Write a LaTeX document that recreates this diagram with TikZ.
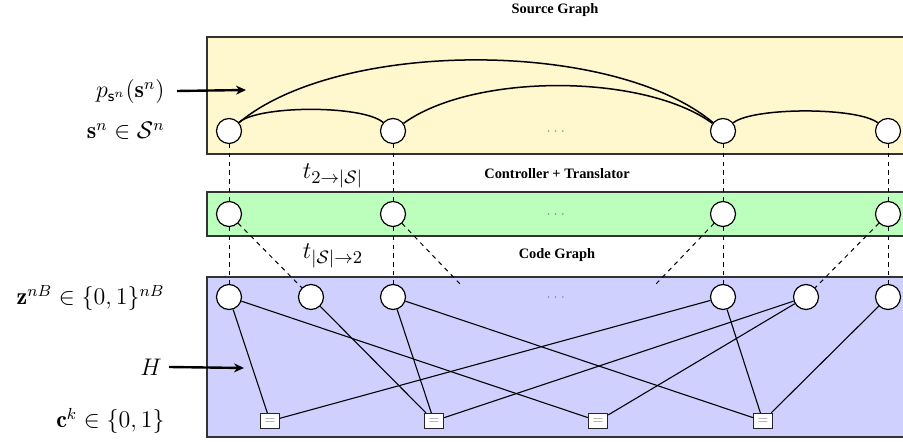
\documentclass[tikz,border=0pt]{standalone}
\usepackage{fontspec}
\usepackage{amsmath,amssymb}
\newfontfamily\headfont{Liberation Serif}
\usetikzlibrary{arrows.meta}

\definecolor{srcfill}{RGB}{255,248,206}
\definecolor{ctlfill}{RGB}{188,255,188}
\definecolor{codefill}{RGB}{208,208,255}
\definecolor{framecol}{RGB}{50,50,50}

\begin{document}
\begin{tikzpicture}[x=0.5pt,y=-0.5pt,
  panel/.style={draw=framecol, line width=0.8pt},
  vnode/.style={circle, draw=black, fill=white, line width=0.6pt,
    minimum size=12.5pt, inner sep=0pt},
  cnode/.style={rectangle, draw=black!85, fill=white, line width=0.6pt,
    minimum width=9.5pt, minimum height=7.5pt, inner sep=0pt,
    text=black!45, font=\fontsize{6}{6}\selectfont},
  head/.style={font=\headfont\bfseries\fontsize{7.2}{8}\selectfont},
  lbl/.style={anchor=east, inner sep=0pt, font=\fontsize{12}{14}\selectfont},
  tlbl/.style={inner sep=0pt, font=\fontsize{13}{15}\selectfont},
  dotsep/.style={inner sep=0pt, text=black!55, font=\fontsize{6}{6}\selectfont},
  vlink/.style={line width=0.5pt, dash pattern=on 2.2pt off 2.2pt},
  edge/.style={line width=0.55pt},
  arc/.style={line width=0.75pt},
  pointer/.style={line width=1.2pt, -{Stealth[length=5pt,width=4.5pt]}}
]
\useasboundingbox (0,0) rectangle (903,442);

% panels (they run past the right margin)
\fill[white] (0,0) rectangle (903,442);
\draw[panel, fill=srcfill]  (207,37)  rectangle (920,154);
\draw[panel, fill=ctlfill]  (207,192) rectangle (920,236);
\draw[panel, fill=codefill] (207,277) rectangle (920,437);

% headings
\node[head] (hsrc)  at (555,10)  {Source Graph};
\node[head] (hctl)  at (557,174) {Controller + Translator};
\node[head] (hcode) at (557,255) {Code Graph};
\node[tlbl] (t1) at (333,176) {$t_{2\to|\mathcal{S}|}$};
\node[tlbl] (t2) at (333,256) {$t_{|\mathcal{S}|\to 2}$};

% source variables
\node[vnode] (s1) at (229,131) {};
\node[vnode] (s2) at (393,131) {};
\node[vnode] (s3) at (723,131) {};
\node[vnode] (s4) at (888,131) {};
\node[dotsep] (sd) at (557,132) {$\cdots$};

% translator variables
\node[vnode] (g1) at (229,214) {};
\node[vnode] (g2) at (393,214) {};
\node[vnode] (g3) at (723,214) {};
\node[vnode] (g4) at (888,214) {};
\node[dotsep] (gd) at (557,215) {$\cdots$};

% code bits
\node[vnode] (z1) at (229,297) {};
\node[vnode] (z2) at (311,297) {};
\node[vnode] (z3) at (393,297) {};
\node[vnode] (z4) at (723,297) {};
\node[vnode] (z5) at (806,297) {};
\node[vnode] (z6) at (888,297) {};
\node[dotsep] (zd) at (557,298) {$\cdots$};

% check nodes
\node[cnode] (c1) at (270,421) {$=$};
\node[cnode] (c2) at (434,421) {$=$};
\node[cnode] (c3) at (598,421) {$=$};
\node[cnode] (c4) at (763,421) {$=$};

% source graph dependencies
\draw[arc] (s1) .. controls +(30,-26) and +(-30,-26) .. (s2);
\draw[arc] (s1) .. controls +(110,-92) and +(-110,-92) .. (s3);
\draw[arc] (s2) .. controls +(80,-58) and +(-80,-58) .. (s3);
\draw[arc] (s3) .. controls +(30,-24) and +(-30,-24) .. (s4);

% translation links
\foreach \i in {1,2,3,4} {
  \draw[vlink] (s\i) -- (g\i);
}
\draw[vlink] (g1) -- (z1);
\draw[vlink] (g2) -- (z3);
\draw[vlink] (g3) -- (z4);
\draw[vlink] (g4) -- (z6);
\coordinate (m1) at (460,284);
\coordinate (m2) at (656,284);
\draw[vlink] (g1) -- (z2);
\draw[vlink] (g2) -- (m1);
\draw[vlink] (g3) -- (m2);
\draw[vlink] (g4) -- (z5);

% parity-check edges
\draw[edge] (z1) -- (c1);
\draw[edge] (z1) -- (c3);
\draw[edge] (z2) -- (c2);
\draw[edge] (z3) -- (c2);
\draw[edge] (z3) -- (c4);
\draw[edge] (z4) -- (c1);
\draw[edge] (z4) -- (c4);
\draw[edge] (z5) -- (c2);
\draw[edge] (z5) -- (c3);
\draw[edge] (z6) -- (c4);

% left-hand labels
\node[lbl] (lp) at (165,92)  {$p_{\mathsf{s}^n}(\mathbf{s}^n)$};
\node[lbl] (ls) at (165,131) {$\mathbf{s}^n \in \mathcal{S}^n$};
\node[lbl] (lz) at (165,298) {$\mathbf{z}^{nB} \in \{0,1\}^{nB}$};
\node[lbl] (lH) at (162,367) {$H$};
\node[lbl] (lc) at (165,421) {$\mathbf{c}^k \in \{0,1\}$};

\coordinate (pin1) at (246,90);
\coordinate (pin2) at (244,368);
\draw[pointer] (lp.east) ++(12,-1) coordinate (pstart) -- (pin1);
\draw[pointer] (lH.east) ++(7,0) coordinate (hstart) -- (pin2);
\end{tikzpicture}
\end{document}
